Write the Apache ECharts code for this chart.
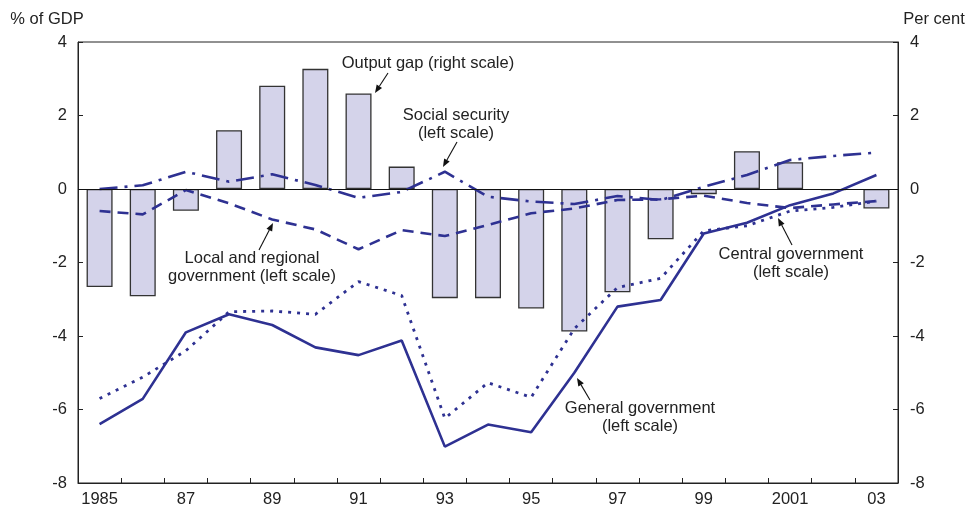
<!DOCTYPE html>
<html>
<head>
<meta charset="utf-8">
<script src="https://cdn.jsdelivr.net/npm/echarts@6/dist/echarts.min.js"></script>
<style>
html,body{margin:0;padding:0;background:#fff;}
#chart{width:969px;height:508px;}
</style>
</head>
<body>
<div id="chart"></div>
<script>
var categories = ['1985','86','87','88','89','90','91','92','93','94','95','96','97','98','99','2000','2001','02','03'];
var yTicks = [-8,-6,-4,-2,0,2,4];
var outputGap = [-2.67,-2.92,-0.59,1.60,2.81,3.27,2.60,0.61,-2.97,-2.97,-3.25,-3.88,-2.81,-1.37,-0.14,1.03,0.73,-0.03,-0.53];
var generalGov = [-6.40,-5.71,-3.90,-3.41,-3.70,-4.31,-4.52,-4.12,-7.01,-6.41,-6.62,-5.00,-3.20,-3.02,-1.21,-0.92,-0.44,-0.12,0.38];
var centralGov = [-5.70,-5.12,-4.40,-3.34,-3.32,-3.41,-2.52,-2.90,-6.24,-5.27,-5.67,-3.80,-2.68,-2.43,-1.14,-1.00,-0.60,-0.50,-0.33];
var socialSec = [0.00,0.10,0.47,0.20,0.40,0.11,-0.24,-0.08,0.47,-0.21,-0.34,-0.41,-0.19,-0.30,0.06,0.38,0.79,0.90,0.99];
var localGov = [-0.60,-0.69,-0.03,-0.39,-0.83,-1.10,-1.64,-1.12,-1.28,-0.98,-0.66,-0.53,-0.30,-0.28,-0.18,-0.38,-0.52,-0.42,-0.33];

var FONT = '"Liberation Sans", Arial, sans-serif';
var FS = 16.5;
var BLUE = '#2e3192';
var chart = echarts.init(document.getElementById('chart'), null, {renderer:'canvas'});

var option = {
  animation: false,
  backgroundColor: '#ffffff',
  grid: {left: 78, right: 71, top: 42, bottom: 25, show: true, borderColor: '#222', borderWidth: 1},
  xAxis: {
    type: 'category',
    data: categories,
    boundaryGap: true,
    axisLine: {show: true, onZero: false, lineStyle: {color: '#222', width: 1}},
    axisTick: {show: true, inside: true, length: 5, interval: 0, lineStyle: {color: '#222'}},
    axisLabel: {interval: 1, color: '#222', fontFamily: FONT, fontSize: FS, margin: 8},
    splitLine: {show: false}
  },
  yAxis: [
    {type: 'value', min: -8, max: 4, interval: 2, position: 'left',
     axisLine: {show: true, lineStyle: {color: '#222'}},
     axisTick: {show: true, inside: true, length: 5, lineStyle: {color: '#222'}},
     axisLabel: {color: '#222', fontFamily: FONT, fontSize: FS, margin: 11},
     splitLine: {show: false}},
    {type: 'value', min: -8, max: 4, interval: 2, position: 'right',
     axisLine: {show: true, lineStyle: {color: '#222'}},
     axisTick: {show: true, inside: true, length: 5, lineStyle: {color: '#222'}},
     axisLabel: {color: '#222', fontFamily: FONT, fontSize: FS, margin: 12},
     splitLine: {show: false}}
  ],
  series: [
    {name: 'Output gap', type: 'bar', yAxisIndex: 1, data: outputGap, barWidth: 26,
     itemStyle: {color: '#d4d3ea', borderColor: '#333', borderWidth: 1.3},
     markLine: {silent: true, symbol: ['none','none'], label: {show: false},
       lineStyle: {color: '#111', width: 1.2, type: 'solid'}, data: [{yAxis: 0}]}},
    {name: 'General government', type: 'line', data: generalGov, symbol: 'none',
     lineStyle: {color: BLUE, width: 2.6, type: 'solid'}},
    {name: 'Central government', type: 'line', data: centralGov, symbol: 'none',
     lineStyle: {color: BLUE, width: 2.8, type: [3, 6]}},
    {name: 'Social security', type: 'line', data: socialSec, symbol: 'none',
     lineStyle: {color: BLUE, width: 2.6, type: [18, 7, 3, 7]}},
    {name: 'Local and regional government', type: 'line', data: localGov, symbol: 'none',
     lineStyle: {color: BLUE, width: 2.6, type: [11, 7]}}
  ]
};
chart.setOption(option);

function arrow(x1, y1, x2, y2){
  var dx = x2 - x1, dy = y2 - y1, L = Math.sqrt(dx*dx + dy*dy);
  var ux = dx / L, uy = dy / L, hl = 8, hw = 3.2;
  var bx = x2 - ux*hl, by = y2 - uy*hl;
  return [
    {type: 'line', silent: true, shape: {x1: x1, y1: y1, x2: bx, y2: by}, style: {stroke: '#111', lineWidth: 1.1}},
    {type: 'polygon', silent: true, shape: {points: [[x2, y2], [bx - uy*hw, by + ux*hw], [bx + uy*hw, by - ux*hw]]}, style: {fill: '#111'}}
  ];
}
function label(x, y, txt, align){
  return {type: 'text', silent: true, x: x, y: y,
    style: {text: txt, font: FS + 'px ' + FONT, fill: '#222', align: align || 'center', verticalAlign: 'middle', lineHeight: 18}};
}
var g = [];
g.push(label(47, 19, '% of GDP'));
g.push(label(934, 19, 'Per cent'));
g.push(label(428, 63, 'Output gap (right scale)'));
g = g.concat(arrow(388, 73, 375, 93));
g.push(label(456, 124, 'Social security\n(left scale)'));
g = g.concat(arrow(457, 142, 443, 167));
g.push(label(252, 267, 'Local and regional\ngovernment (left scale)'));
g = g.concat(arrow(259, 250, 273, 223));
g.push(label(791, 263, 'Central government\n(left scale)'));
g = g.concat(arrow(792, 245, 778, 218));
g.push(label(640, 417, 'General government\n(left scale)'));
g = g.concat(arrow(590, 400, 577, 378));
chart.setOption({graphic: {elements: g}});
</script>
</body>
</html>
